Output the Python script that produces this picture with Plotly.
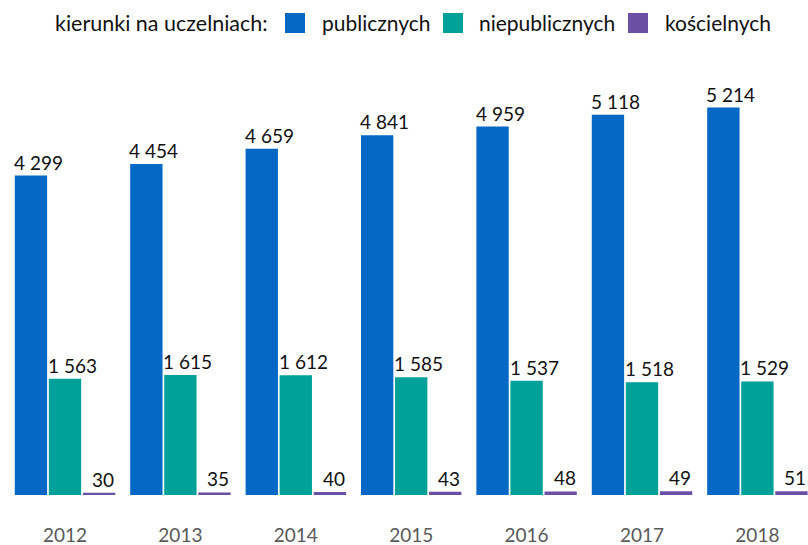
import plotly.graph_objects as go

years = ["2012", "2013", "2014", "2015", "2016", "2017", "2018"]
publiczne = [4299, 4454, 4659, 4841, 4959, 5118, 5214]
niepubliczne = [1563, 1615, 1612, 1585, 1537, 1518, 1529]
koscielne = [30, 35, 40, 43, 48, 49, 51]

series_names = ["publicznych", "niepublicznych", "kościelnych"]
legend_title = "kierunki na uczelniach:"
colors = ["#0468c4", "#00a198", "#6b4fa5"]

FONT = "Lato"
W, H = 808, 545
MT, MB = 60, 50
ML, MR = 0, 0
PW = W - ML - MR
PH = H - MT - MB
STEP = 115.4          # pixel width of one category
FIRST_CENTER = 65     # x of the first category centre


def fmt(v):
    return f"{v:,}".replace(",", " ")


def px_x(sx):
    return (sx - ML) / PW


def px_y(sy):
    return 1 + (MT - sy) / PH


fig = go.Figure()
for name, vals, col in zip(series_names, [publiczne, niepubliczne, koscielne], colors):
    fig.add_trace(go.Bar(
        x=years, y=vals, name=name,
        marker=dict(color=col, line=dict(width=0)),
        showlegend=False,
    ))

annotations = []
shifts = [-53, -19, 25]
for vals, sh in zip([publiczne, niepubliczne, koscielne], shifts):
    for i, v in enumerate(vals):
        annotations.append(dict(
            x=i, y=v, xref="x", yref="y", text=fmt(v), showarrow=False,
            xanchor="left", yanchor="bottom", xshift=sh, yshift=0,
            font=dict(family=FONT, size=19, color="#111111"),
        ))

# custom legend
annotations.append(dict(
    x=px_x(53), y=px_y(23), xref="paper", yref="paper", text=legend_title,
    showarrow=False, xanchor="left", yanchor="middle",
    font=dict(family=FONT, size=21.5, color="#111111"),
))
shapes = []
sq_left = [285, 443, 628]
txt_left = [320, 477, 663]
for name, col, sl, tl in zip(series_names, colors, sq_left, txt_left):
    shapes.append(dict(
        type="rect", xref="paper", yref="paper",
        x0=px_x(sl), x1=px_x(sl + 20), y0=px_y(33), y1=px_y(13),
        fillcolor=col, line=dict(width=0),
    ))
    annotations.append(dict(
        x=px_x(tl), y=px_y(23), xref="paper", yref="paper", text=name,
        showarrow=False, xanchor="left", yanchor="middle",
        font=dict(family=FONT, size=21, color="#111111"),
    ))

scale = 0.0743
r0 = -(FIRST_CENTER - ML) / STEP
fig.update_layout(
    width=W, height=H,
    margin=dict(l=ML, r=MR, t=MT, b=MB),
    paper_bgcolor="white", plot_bgcolor="white",
    barmode="group", bargap=0.115, bargroupgap=0.05,
    annotations=annotations, shapes=shapes,
    showlegend=False,
    xaxis=dict(
        type="category", range=[r0, r0 + PW / STEP],
        showline=False, showgrid=False, zeroline=False,
        ticks="outside", ticklen=23, tickcolor="rgba(0,0,0,0)",
        tickfont=dict(family=FONT, size=19, color="#595959"),
    ),
    yaxis=dict(
        range=[0, PH / scale], visible=False, showgrid=False, zeroline=False,
    ),
)

fig.write_html(
    "out.html",
    config={"displayModeBar": False},
    post_script=(
        "document.body.style.margin='0';"
        "document.documentElement.style.overflow='hidden';"
        "document.body.style.overflow='hidden';"
    ),
)
